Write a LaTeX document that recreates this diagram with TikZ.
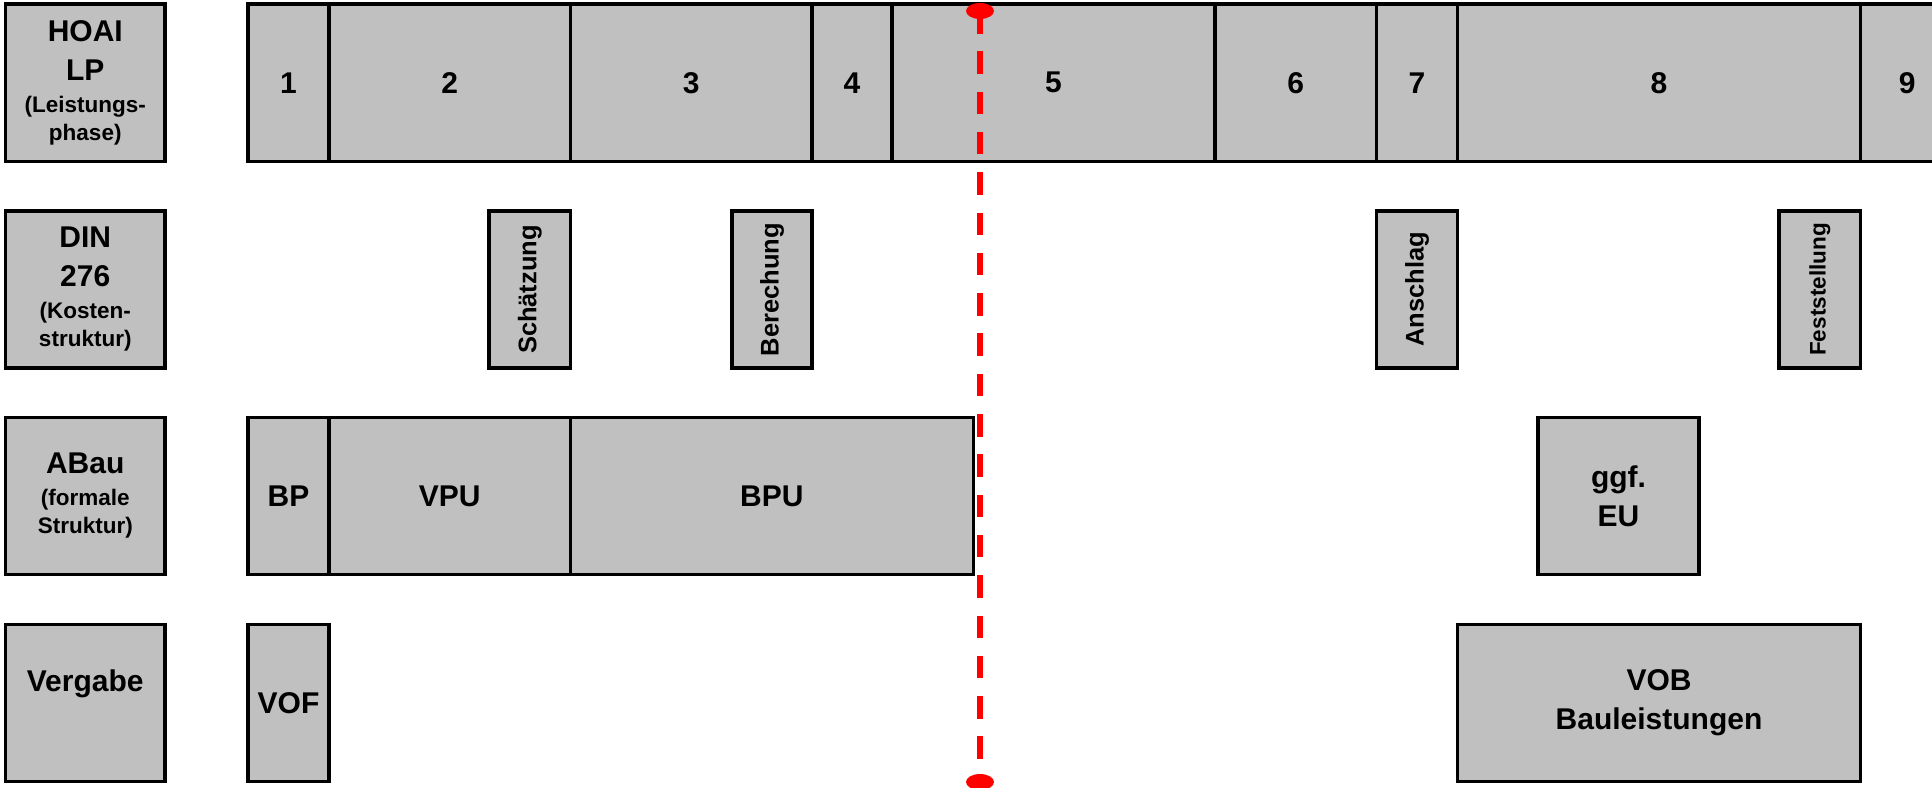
\documentclass[tikz,border=0pt]{standalone}
\usepackage{fontspec}
\setmainfont{Liberation Sans}
\usetikzlibrary{shapes.geometric}
\definecolor{boxgray}{RGB}{192,192,192}
\definecolor{markred}{RGB}{255,0,0}
\newcommand\hfBig{\fontsize{30}{39}\selectfont}
\newcommand\hfSmall{\fontsize{22.5}{28}\selectfont}
\newcommand\hfRot{\fontsize{25.5}{30}\selectfont}
\newcommand\hfRotS{\fontsize{22.5}{28}\selectfont}
% #2 name, #3 x1, #4 y1, #5 x2, #6 y2, #7 text
\newcommand\pbox[7][]{\node[box,minimum width={(#5-#3)*1pt},minimum height={(#6-#4)*1pt},#1] (#2) at ({(#3+#5)/2},{(#4+#6)/2}) {#7};}
\newcommand\rbox[7][]{\node[box,rotate=90,minimum width={(#6-#4)*1pt},minimum height={(#5-#3)*1pt},#1] (#2) at ({(#3+#5)/2},{(#4+#6)/2}) {#7};}
\tikzset{
  box/.style={draw=black, line width=3.6pt, fill=boxgray, inner sep=0pt, outer sep=0pt, align=center, font=\bfseries\hfBig},
  reddot/.style={ellipse, fill=markred, draw=none, minimum width=28pt, minimum height=16pt, inner sep=0pt, outer sep=0pt},
  redline/.style={draw=markred, line width=6pt, dash pattern=on 22.5pt off 17.8pt, dash phase=8pt}
}
\begin{document}
\begin{tikzpicture}[x=1pt,y=-1pt]
\useasboundingbox (0,0) rectangle (1932,787);
\clip (0,0) rectangle (1932,787);
% row labels
\pbox{lhoai}{5.5}{4}{165}{161.5}{HOAI\\LP\\[-7pt]{\hfSmall(Leistungs-}\\[-11pt]{\hfSmall phase)}}
\pbox{ldin}{5.5}{211}{165}{368}{DIN\\276\\[-7pt]{\hfSmall(Kosten-}\\[-11pt]{\hfSmall struktur)}}
\pbox{labau}{5.5}{417.5}{165}{574.5}{ABau\\[-7pt]{\hfSmall(formale}\\[-11pt]{\hfSmall Struktur)}}
\pbox{lverg}{5.5}{624.5}{165}{781.5}{Vergabe\\\phantom{Bg}}
% row 1: HOAI phases
\pbox{p1}{248}{4}{329}{161.5}{1}
\pbox{p2}{329}{4}{570.5}{161.5}{2}
\pbox{p3}{570.5}{4}{812}{161.5}{3}
\pbox{p4}{812}{4}{892}{161.5}{4}
\pbox{p5}{892}{4}{1215}{161.5}{5}
\pbox{p6}{1215}{4}{1376.5}{161.5}{6}
\pbox{p7}{1376.5}{4}{1457.5}{161.5}{7}
\pbox{p8}{1457.5}{4}{1860.5}{161.5}{8}
\pbox{p9}{1860.5}{4}{1954}{161.5}{9}
% row 2: DIN 276
\rbox[font=\bfseries\hfRot]{schaetz}{489}{211}{570.5}{368}{Schätzung}
\rbox[font=\bfseries\hfRot]{berech}{732}{211}{812}{368}{Berechung}
\rbox[font=\bfseries\hfRot]{anschl}{1376.5}{211}{1457.5}{368}{Anschlag}
\rbox[font=\bfseries\hfRotS]{festst}{1779}{211}{1860.5}{368}{Feststellung}
% row 3: ABau
\pbox{bp}{248}{417.5}{329}{574.5}{BP}
\pbox{vpu}{329}{417.5}{570.5}{574.5}{VPU}
\pbox{bpu}{570.5}{417.5}{973.3}{574.5}{BPU}
\pbox{eu}{1538}{417.5}{1699}{574.5}{ggf.\\EU}
% row 4: Vergabe
\pbox{vof}{248}{624.5}{329}{781.5}{VOF}
\pbox{vob}{1457.5}{624.5}{1860.5}{781.5}{VOB\\Bauleistungen}
% red marker line
\node[reddot] (dtop) at (980,11) {};
\node[reddot] (dbot) at (980,782) {};
\draw[redline] (dtop) -- (dbot);
\end{tikzpicture}
\end{document}
